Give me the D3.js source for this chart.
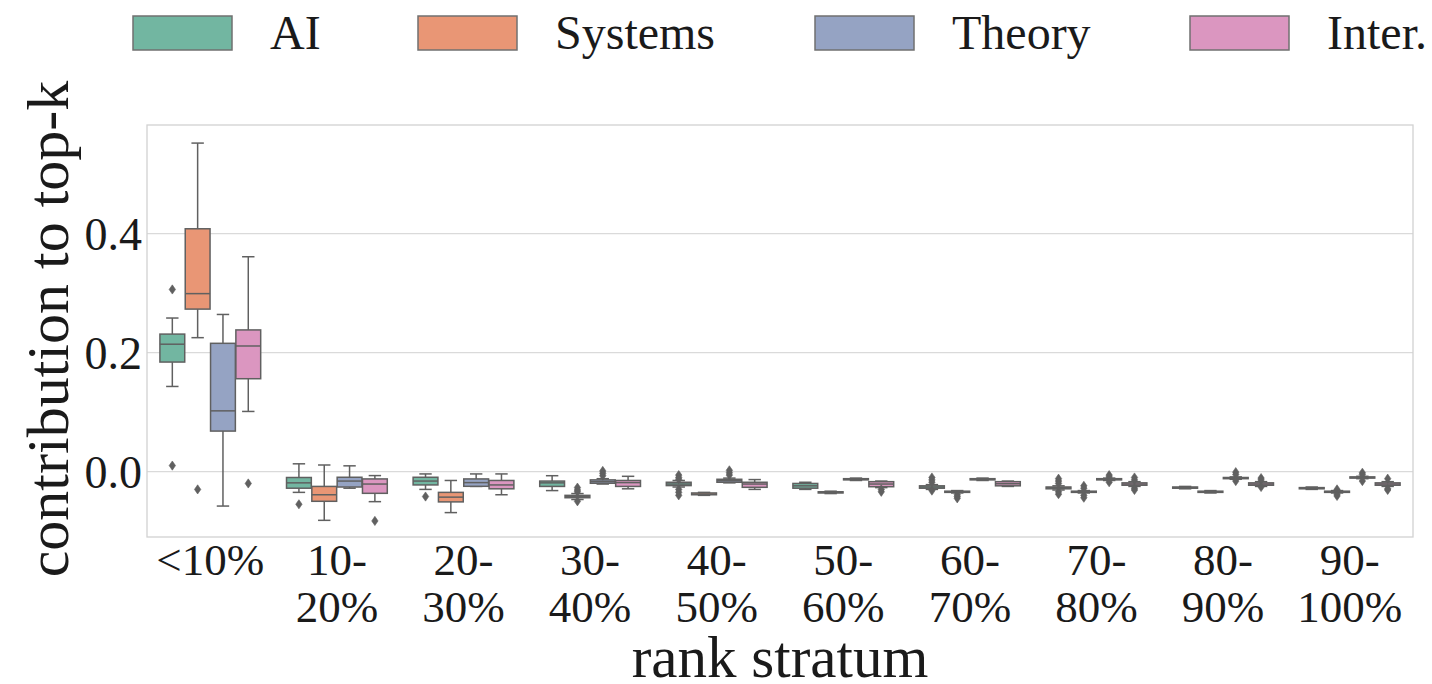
<!DOCTYPE html>
<html>
<head>
<meta charset="utf-8">
<script src="https://cdn.jsdelivr.net/npm/d3@7/dist/d3.min.js"></script>
<style>
  html, body { margin: 0; padding: 0; background: #fff; }
  svg { display: block; }
</style>
</head>
<body>
<svg id="chart" width="1432" height="684"></svg>
<script>
// ---------------- data ----------------
const categories = ["<10%", "10-20%", "20-30%", "30-40%", "40-50%", "50-60%", "60-70%", "70-80%", "80-90%", "90-100%"];
const tickLabels = [["<10%"], ["10-", "20%"], ["20-", "30%"], ["30-", "40%"], ["40-", "50%"], ["50-", "60%"], ["60-", "70%"], ["70-", "80%"], ["80-", "90%"], ["90-", "100%"]];
const series = ["AI", "Systems", "Theory", "Inter."];
const yTicks = [0.0, 0.2, 0.4];

// box stats per stratum: [whiskerLow, q1, median, q3, whiskerHigh]
const aiStats = [
  [0.143, 0.184, 0.214, 0.231, 0.258],
  [-0.035, -0.028, -0.019, -0.010, 0.013],
  [-0.030, -0.0225, -0.016, -0.0096, -0.004],
  [-0.032, -0.025, -0.019, -0.016, -0.007],
  [-0.026, -0.0236, -0.021, -0.018, -0.015],
  [-0.030, -0.028, -0.024, -0.020, -0.018],
  [-0.030, -0.028, -0.026, -0.024, -0.022],
  [-0.031, -0.029, -0.027, -0.026, -0.024],
  [-0.029, -0.028, -0.027, -0.026, -0.025],
  [-0.030, -0.029, -0.028, -0.027, -0.026]
];
const aiOutliers = [
  [0.306, 0.010], [-0.055], [-0.042], [], [-0.006, -0.010, -0.013, -0.030, -0.035, -0.040],
  [], [-0.010, -0.014, -0.018, -0.032], [-0.012, -0.016, -0.020, -0.034, -0.038], [], []
];

const sysStats = [
  [0.225, 0.273, 0.299, 0.408, 0.552],
  [-0.082, -0.050, -0.039, -0.025, 0.011],
  [-0.069, -0.051, -0.043, -0.035, -0.015],
  [-0.047, -0.044, -0.042, -0.040, -0.037],
  [-0.040, -0.039, -0.038, -0.036, -0.035],
  [-0.037, -0.036, -0.035, -0.034, -0.033],
  [-0.036, -0.035, -0.034, -0.033, -0.032],
  [-0.036, -0.035, -0.034, -0.033, -0.032],
  [-0.036, -0.035, -0.034, -0.033, -0.032],
  [-0.036, -0.035, -0.034, -0.033, -0.032]
];
const sysOutliers = [
  [-0.030], [], [], [-0.027, -0.031, -0.034, -0.050], [],
  [], [-0.039, -0.042, -0.045], [-0.024, -0.028, -0.040, -0.044], [], [-0.030, -0.038, -0.041]
];

const theoryStats = [
  [-0.058, 0.068, 0.102, 0.2155, 0.264],
  [-0.028, -0.026, -0.016, -0.0096, 0.0096],
  [-0.025, -0.0248, -0.0186, -0.0124, -0.004],
  [-0.021, -0.0197, -0.017, -0.014, -0.012],
  [-0.019, -0.018, -0.0155, -0.013, -0.011],
  [-0.015, -0.014, -0.013, -0.012, -0.011],
  [-0.015, -0.014, -0.013, -0.012, -0.011],
  [-0.015, -0.014, -0.013, -0.012, -0.011],
  [-0.013, -0.012, -0.011, -0.010, -0.009],
  [-0.012, -0.011, -0.010, -0.009, -0.008]
];
const theoryOutliers = [
  [], [], [], [0.001, -0.003, -0.007], [0.002, -0.002, -0.006],
  [], [], [-0.006, -0.009, -0.018], [-0.001, -0.005, -0.016], [-0.002, -0.005, -0.016]
];

const interStats = [
  [0.101, 0.156, 0.211, 0.238, 0.361],
  [-0.0506, -0.0366, -0.021, -0.0124, -0.0068],
  [-0.039, -0.029, -0.0225, -0.015, -0.004],
  [-0.029, -0.025, -0.0186, -0.015, -0.008],
  [-0.030, -0.0265, -0.021, -0.018, -0.0135],
  [-0.027, -0.0255, -0.021, -0.017, -0.016],
  [-0.025, -0.024, -0.0205, -0.017, -0.016],
  [-0.025, -0.023, -0.021, -0.019, -0.017],
  [-0.025, -0.023, -0.021, -0.019, -0.017],
  [-0.025, -0.023, -0.021, -0.019, -0.017]
];
const interOutliers = [
  [-0.020], [-0.083], [], [], [],
  [-0.030, -0.034], [], [-0.010, -0.014, -0.028, -0.031], [-0.011, -0.014, -0.026], [-0.012, -0.029, -0.031]
];

const colors = ["#72b6a1", "#e99675", "#95a3c3", "#db96c0"];
// ----------------------------------------------------------------

const FONT = "'Liberation Serif', 'Times New Roman', serif";
const statsBySeries = [aiStats, sysStats, theoryStats, interStats];
const outliersBySeries = [aiOutliers, sysOutliers, theoryOutliers, interOutliers];

const svg = d3.select("#chart").attr("font-family", FONT);
const plot = { left: 147, right: 1413, top: 125, bottom: 537 };
const lineColor = "#606060";
const textColor = "#1a1a1a";

const x = d3.scaleBand().domain(categories).range([plot.left, plot.right]).paddingInner(0).paddingOuter(0);
const bw = x.bandwidth();
const xInner = d3.scaleBand().domain(series).range([0.1 * bw, 0.9 * bw]).padding(0);
const boxW = xInner.bandwidth() * 0.98;
const y = d3.scaleLinear().domain([-0.110, 0.5824]).range([plot.bottom, plot.top]);
const color = d3.scaleOrdinal().domain(series).range(colors);

// grid
svg.append("g").selectAll("line").data(yTicks).join("line")
  .attr("x1", plot.left).attr("x2", plot.right)
  .attr("y1", d => y(d)).attr("y2", d => y(d))
  .attr("stroke", "#dadada").attr("stroke-width", 1.3);

// frame
svg.append("rect")
  .attr("x", plot.left).attr("y", plot.top)
  .attr("width", plot.right - plot.left).attr("height", plot.bottom - plot.top)
  .attr("fill", "none").attr("stroke", "#d2d2d2").attr("stroke-width", 1.3);

// y axis
const yAxis = d3.axisLeft(y).tickValues(yTicks).tickFormat(d3.format(".1f")).tickSize(0).tickPadding(5);
const gy = svg.append("g").attr("transform", `translate(${plot.left},0)`).call(yAxis);
gy.attr("font-family", FONT).attr("font-size", 46);
gy.select(".domain").remove();
gy.selectAll("text").attr("font-family", FONT).attr("font-size", 46).attr("fill", textColor).attr("dy", "0.34em");

// x axis
const xAxis = d3.axisBottom(x).tickSize(0).tickFormat("");
const gx = svg.append("g").attr("transform", `translate(0,${plot.bottom})`).call(xAxis);
gx.attr("font-family", FONT);
gx.select(".domain").remove();
gx.selectAll(".tick").each(function(d, i) {
  const t = d3.select(this).append("text")
    .attr("text-anchor", "middle")
    .attr("font-family", FONT)
    .attr("font-size", 45)
    .attr("fill", textColor);
  tickLabels[i].forEach((s, j) => {
    t.append("tspan").attr("x", 0).attr("y", 38 + j * 47).text(s);
  });
});

// axis titles
svg.append("text")
  .attr("x", (plot.left + plot.right) / 2).attr("y", 677)
  .attr("text-anchor", "middle").attr("font-family", FONT).attr("font-size", 59)
  .attr("fill", textColor).text("rank stratum");
svg.append("text")
  .attr("transform", `translate(68,${(plot.top + plot.bottom) / 2 - 2}) rotate(-90)`)
  .attr("text-anchor", "middle").attr("font-family", FONT).attr("font-size", 60)
  .attr("fill", textColor).text("contribution to top-k");

// boxes
const groups = svg.append("g");
series.forEach((s, si) => {
  const st = statsBySeries[si];
  const outs = outliersBySeries[si];
  categories.forEach((c, ci) => {
    const [lo, q1, med, q3, hi] = st[ci];
    const cx = x(c) + xInner(s) + xInner.bandwidth() / 2;
    const g = groups.append("g");
    g.append("line").attr("x1", cx).attr("x2", cx).attr("y1", y(q3)).attr("y2", y(hi))
      .attr("stroke", lineColor).attr("stroke-width", 1.5);
    g.append("line").attr("x1", cx).attr("x2", cx).attr("y1", y(q1)).attr("y2", y(lo))
      .attr("stroke", lineColor).attr("stroke-width", 1.5);
    [lo, hi].forEach(v => {
      g.append("line").attr("x1", cx - boxW / 4).attr("x2", cx + boxW / 4)
        .attr("y1", y(v)).attr("y2", y(v))
        .attr("stroke", lineColor).attr("stroke-width", 1.5);
    });
    g.append("rect")
      .attr("x", cx - boxW / 2).attr("width", boxW)
      .attr("y", y(q3)).attr("height", Math.max(0.5, y(q1) - y(q3)))
      .attr("fill", color(s)).attr("stroke", lineColor).attr("stroke-width", 1.5);
    g.append("line").attr("x1", cx - boxW / 2).attr("x2", cx + boxW / 2)
      .attr("y1", y(med)).attr("y2", y(med))
      .attr("stroke", lineColor).attr("stroke-width", 1.5);
    g.selectAll("path.out").data(outs[ci]).join("path")
      .attr("class", "out")
      .attr("transform", v => `translate(${cx},${y(v)})`)
      .attr("d", "M0,-4.6L3.2,0L0,4.6L-3.2,0Z")
      .attr("fill", lineColor).attr("stroke", lineColor).attr("stroke-width", 0.6);
  });
});

// legend
const legendX = [133, 418, 815, 1190];
const leg = svg.append("g");
series.forEach((s, i) => {
  leg.append("rect").attr("x", legendX[i]).attr("y", 16).attr("width", 99).attr("height", 34)
    .attr("fill", color(s)).attr("stroke", "#707070").attr("stroke-width", 1.5);
  leg.append("text").attr("x", legendX[i] + 137).attr("y", 49)
    .attr("font-family", FONT).attr("font-size", 48).attr("fill", textColor).text(s);
});
</script>
</body>
</html>
